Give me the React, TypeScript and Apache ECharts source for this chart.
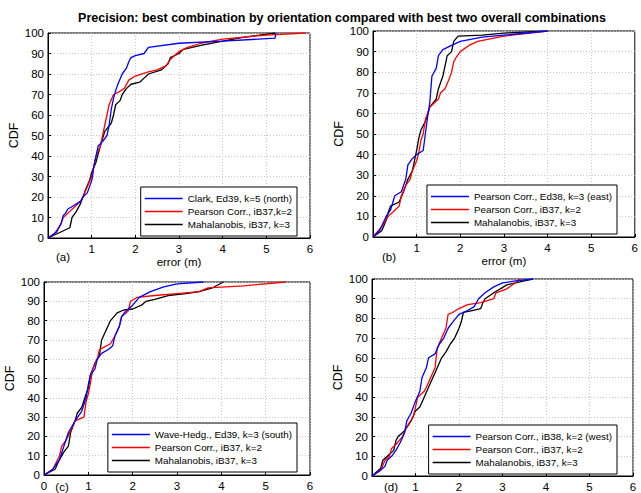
import React, { useEffect, useRef } from "react";
import * as echarts from "echarts";

// ---- data: [error (m), CDF (%)] ----
const aBlue = [[0,0],[0.2,3],[0.25,5],[0.3,7],[0.35,11],[0.4,12],[0.45,14],[0.6,16],[0.75,18],[0.8,20],[0.9,22],[1.0,28],[1.02,30],[1.05,35],[1.1,40],[1.15,45],[1.25,47],[1.35,50],[1.4,55],[1.45,63],[1.5,68],[1.55,72],[1.6,75],[1.7,80],[1.8,83],[1.85,86],[1.9,88],[2.0,89],[2.2,90],[2.3,93],[3.0,95],[4.0,96],[5.2,97.5],[5.22,100]];
const aRed = [[0,0],[0.15,2],[0.3,7],[0.35,10],[0.5,13],[0.6,15],[0.75,18],[0.8,20],[0.9,25],[1.0,30],[1.05,35],[1.1,40],[1.2,45],[1.25,50],[1.3,55],[1.35,60],[1.4,65],[1.5,70],[1.6,71],[1.75,73],[1.85,77],[2.0,79],[2.3,81],[2.5,82],[2.7,84],[2.8,87],[2.9,89],[3.0,91],[3.2,93],[3.5,95],[4.0,97],[5.0,99],[5.9,100]];
const aBlack = [[0,0],[0.5,5],[0.55,10],[0.65,13],[0.75,17],[0.85,23],[0.95,28],[1.0,32],[1.1,37],[1.2,45],[1.3,52],[1.45,56],[1.5,60],[1.55,65],[1.65,67],[1.7,70],[1.8,73],[1.9,75],[2.1,76],[2.2,78],[2.3,80],[2.6,82],[2.75,85],[2.8,88],[3.0,90],[3.1,92],[3.5,94],[4.0,96],[4.5,98],[5.2,100]];

const bBlue = [[0,0],[0.15,3],[0.3,10],[0.4,13],[0.5,20],[0.65,22],[0.75,28],[0.8,35],[0.9,38],[1.0,40],[1.15,42],[1.2,50],[1.25,58],[1.3,65],[1.35,78],[1.45,82],[1.5,88],[1.6,91],[1.8,93],[2.0,95],[2.5,97],[3.0,98],[4.0,100]];
const bRed = [[0,0],[0.2,5],[0.35,10],[0.5,13],[0.6,15],[0.65,20],[0.75,25],[0.85,28],[0.9,32],[1.0,37],[1.05,41],[1.1,47],[1.15,50],[1.2,57],[1.3,63],[1.5,67],[1.55,70],[1.65,72],[1.75,77],[1.8,80],[1.85,85],[1.9,87],[2.0,90],[2.2,93],[2.4,95],[3.0,97.5],[4.0,100]];
const bBlack = [[0,0],[0.2,3],[0.3,8],[0.35,12],[0.4,15],[0.6,17],[0.7,22],[0.8,28],[0.9,32],[0.95,37],[1.0,42],[1.05,48],[1.1,52],[1.2,56],[1.3,63],[1.45,67],[1.5,72],[1.6,78],[1.65,83],[1.7,88],[1.8,90],[1.85,95],[1.95,97.5],[2.5,98],[3.0,99],[4.0,100]];

const cBlue = [[0,0],[0.2,3],[0.35,8],[0.45,15],[0.55,22],[0.7,28],[0.85,33],[0.95,40],[1.0,47],[1.05,52],[1.15,55],[1.2,60],[1.3,63],[1.45,65],[1.55,67],[1.6,72],[1.7,77],[1.75,82],[1.85,85],[2.0,88],[2.15,92],[2.4,95],[2.7,97.5],[3.0,99],[3.6,100]];
const cRed = [[0,0],[0.2,3],[0.35,10],[0.4,15],[0.5,18],[0.6,23],[0.7,28],[0.9,30],[0.95,38],[1.0,42],[1.05,48],[1.1,55],[1.2,60],[1.25,65],[1.5,68],[1.6,72],[1.7,77],[1.75,82],[1.9,85],[1.95,90],[2.1,92],[2.5,93],[3.0,94],[3.5,95],[3.7,97],[4.5,98],[5.45,100]];
const cBlack = [[0,0],[0.25,3],[0.35,8],[0.45,12],[0.55,15],[0.6,22],[0.7,28],[0.75,32],[0.85,35],[0.95,42],[1.0,45],[1.05,52],[1.15,58],[1.25,62],[1.3,70],[1.4,75],[1.5,80],[1.65,84],[1.8,85.5],[2.0,86],[2.2,88],[2.3,90],[2.5,91],[2.8,93],[3.2,94],[3.5,95],[3.8,97],[4.05,100]];

const dBlue = [[0,0],[0.2,3],[0.3,5],[0.35,8],[0.45,10],[0.55,13],[0.65,17],[0.75,22],[0.8,28],[0.9,32],[1.0,38],[1.1,43],[1.15,50],[1.25,55],[1.3,60],[1.45,62],[1.55,67],[1.65,70],[1.75,75],[1.85,78],[2.0,82],[2.2,84],[2.35,86],[2.45,90],[2.6,93],[2.8,96],[3.0,98],[3.3,99],[3.7,100]];
const dRed = [[0,0],[0.2,3],[0.3,8],[0.4,10],[0.45,14],[0.55,16],[0.7,20],[0.8,25],[0.95,30],[1.0,35],[1.05,40],[1.2,43],[1.25,45],[1.35,50],[1.45,55],[1.5,65],[1.6,70],[1.7,75],[1.75,82],[1.85,83],[2.0,85],[2.2,87],[2.5,88],[2.8,90],[2.85,93],[3.1,95],[3.35,99],[3.4,100]];
const dBlack = [[0,0],[0.2,4],[0.25,8],[0.35,10],[0.5,13],[0.55,18],[0.6,20],[0.75,23],[0.9,28],[1.0,33],[1.1,35],[1.2,40],[1.3,45],[1.4,50],[1.5,55],[1.6,60],[1.7,63],[1.8,67],[1.9,70],[2.0,75],[2.05,78],[2.1,83],[2.3,84],[2.5,85],[2.55,88],[2.6,90],[2.8,93],[3.1,97],[3.5,99],[3.7,100]];

const titleText = "Precision: best combination by orientation compared with best two overall combinations";
const panelLabels = ["(a)", "(b)", "(c)", "(d)"];
const legendNames = [
  ["Clark, Ed39, k=5 (north)", "Pearson Corr., iB37,k=2", "Mahalanobis, iB37, k=3"],
  ["Pearson Corr., Ed38, k=3 (east)", "Pearson Corr., iB37, k=2", "Mahalanobis, iB37, k=3"],
  ["Wave-Hedg., Ed39, k=3 (south)", "Pearson Corr., iB37, k=2", "Mahalanobis, iB37, k=3"],
  ["Pearson Corr., iB38, k=2 (west)", "Pearson Corr., iB37, k=2", "Mahalanobis, iB37, k=3"],
];
const panelData = [
  [aBlue, aRed, aBlack],
  [bBlue, bRed, bBlack],
  [cBlue, cRed, cBlack],
  [dBlue, dRed, dBlack],
];
const showZeroX = [false, false, true, false];
const xNames = ["error (m)", "error (m)", "", ""];

const colors = ["#0000ff", "#ff0000", "#000000"];
const FONT = "Liberation Sans, Arial, sans-serif";

const grids = [
  { left: 48, top: 33, width: 262, height: 205 },
  { left: 373, top: 31, width: 262, height: 206 },
  { left: 44, top: 282, width: 266, height: 193 },
  { left: 372, top: 279, width: 261, height: 199 },
];
const legendPos = [
  { right: 344, top: 187 },
  { right: 24, top: 185 },
  { right: 344, top: 423 },
  { right: 24, top: 425 },
];
const labelPos = [
  { x: 63, y: 257 },
  { x: 389, y: 257 },
  { x: 62, y: 487 },
  { x: 391, y: 487 },
];

export default function App() {
  const ref = useRef<HTMLDivElement>(null);
  useEffect(() => {
    if (!ref.current) return;
    const chart = echarts.init(ref.current, null, { renderer: "svg" });
    const series: any[] = [];
    panelData.forEach((arr, p) => {
      arr.forEach((d, k) => {
        series.push({
          type: "line",
          name: legendNames[p][k],
          xAxisIndex: p,
          yAxisIndex: p,
          data: d,
          symbol: "none",
          lineStyle: { color: colors[k], width: 1.3 },
          itemStyle: { color: colors[k] },
          z: 5 - k,
        });
      });
    });
    const option: any = {
      animation: false,
      backgroundColor: "#ffffff",
      title: {
        text: titleText,
        left: 337,
        textAlign: "center",
        top: 6,
        textStyle: { fontFamily: FONT, fontSize: 12.5, fontWeight: "bold", color: "#000" },
      },
      grid: grids.map((g) => ({ ...g, show: true, borderColor: "#000", borderWidth: 1, backgroundColor: "#fff" })),
      xAxis: grids.map((g, p) => ({
        type: "value",
        gridIndex: p,
        min: 0,
        max: 6,
        interval: 1,
        name: xNames[p],
        nameLocation: "middle",
        nameGap: 17,
        nameTextStyle: { fontFamily: FONT, fontSize: 11.5, color: "#000" },
        axisLine: { show: true, lineStyle: { color: "#000", width: 1 } },
        axisTick: { show: true, inside: true, length: 3, lineStyle: { color: "#000" } },
        axisLabel: {
          fontFamily: FONT,
          fontSize: 11.5,
          color: "#000",
          margin: 5,
          formatter: (v: number) => (v === 0 && !showZeroX[p] ? "" : String(v)),
        },
        splitLine: { show: true, lineStyle: { color: "#c8c8c8", type: [1, 2], width: 1 } },
      })),
      yAxis: grids.map((g, p) => ({
        type: "value",
        gridIndex: p,
        min: 0,
        max: 100,
        interval: 10,
        name: "CDF",
        nameLocation: "middle",
        nameGap: 24,
        nameRotate: 90,
        nameTextStyle: { fontFamily: FONT, fontSize: 12.5, color: "#000" },
        axisLine: { show: true, lineStyle: { color: "#000", width: 1 } },
        axisTick: { show: true, inside: true, length: 3, lineStyle: { color: "#000" } },
        axisLabel: { fontFamily: FONT, fontSize: 11.5, color: "#000", margin: 4 },
        splitLine: { show: true, lineStyle: { color: "#c8c8c8", type: [1, 2], width: 1 } },
      })),
      legend: legendPos.map((lp, p) => ({
        ...lp,
        orient: "vertical",
        data: legendNames[p],
        selectedMode: false,
        backgroundColor: "#fff",
        borderColor: "#000",
        borderWidth: 1,
        borderRadius: 0,
        padding: [6, 5, 6, 4],
        icon: "rect",
        itemWidth: 38,
        itemHeight: 1.6,
        itemGap: 2,
        textStyle: { fontFamily: FONT, fontSize: 9.8, color: "#000", lineHeight: 11 },
      })),
      graphic: labelPos.map((lp, p) => ({
        type: "text",
        x: lp.x,
        y: lp.y,
        style: {
          text: panelLabels[p],
          fontFamily: FONT,
          fontSize: 11.5,
          fill: "#000",
          textAlign: "center",
          textVerticalAlign: "middle",
        },
      })),
      series,
    };
    chart.setOption(option);
    return () => chart.dispose();
  }, []);
  return <div ref={ref} style={{ width: 641, height: 493, position: "absolute", left: 0, top: 0 }} />;
}
